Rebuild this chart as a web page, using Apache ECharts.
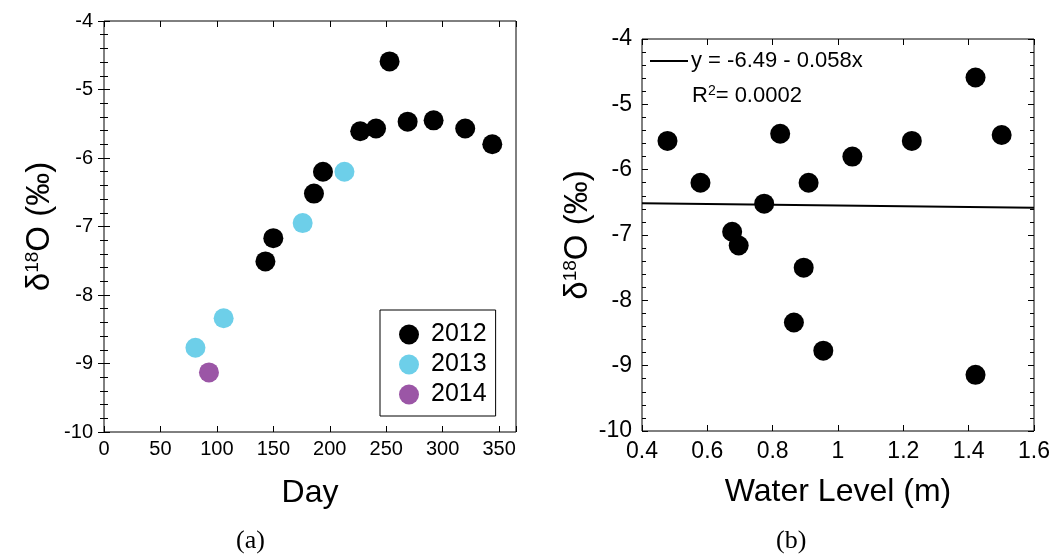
<!DOCTYPE html>
<html>
<head>
<meta charset="utf-8">
<script src="https://cdn.jsdelivr.net/npm/echarts@6/dist/echarts.min.js"></script>
<style>
html, body { margin: 0; padding: 0; background: #fff; }
#main { width: 1057px; height: 554px; }
</style>
</head>
<body>
<div id="main"></div>
<script>
// panel (a): day of year vs d18O
const day2012 = [143, 150, 186, 194, 227, 241, 253, 269, 292, 320, 344]
const d18O2012 = [-7.51, -7.17, -6.52, -6.2, -5.61, -5.57, -4.59, -5.47, -5.45, -5.57, -5.8]
const day2013 = [81, 106, 176, 213]
const d18O2013 = [-8.77, -8.34, -6.95, -6.2]
const day2014 = [93]
const d18O2014 = [-9.13]

// panel (b): water level vs d18O
const waterLevel = [0.478, 0.579, 0.676, 0.696, 0.774, 0.823, 0.865, 0.895, 0.91, 0.955, 1.044, 1.226, 1.421, 1.501, 1.421]
const d18OWater = [-5.56, -6.2, -6.95, -7.16, -6.52, -5.45, -8.34, -7.5, -6.2, -8.77, -5.8, -5.56, -4.59, -5.47, -9.14]

// regression y = a + b x
const fitA = -6.49
const fitB = -0.058
const fitLabel = 'y = -6.49 - 0.058x'
const r2Text = '0.0002'

const font = 'Liberation Sans, Arial, sans-serif'

const pair = (xs, ys) => xs.map((x, i) => [x, ys[i]])

const yTitle = {
  name: '{d|δ}{s|18}{d|O (‰)}',
  nameLocation: 'middle',
  nameRotate: 90,
  nameTextStyle: {
    rich: {
      d: { fontSize: 33, fontFamily: font, color: '#000' },
      s: { fontSize: 19, fontFamily: font, color: '#000', padding: [0, 0, 14, 0] }
    }
  }
}

function xAx (grid, min, max, interval, size, margin, title) {
  const main = {
    gridIndex: grid, type: 'value', min: min, max: max, interval: interval,
    axisLine: { show: false },
    axisTick: { inside: true, length: 6, lineStyle: { color: '#000' } },
    splitLine: { show: false },
    axisLabel: {
      color: '#000', fontSize: size, fontFamily: font, margin: margin,
      formatter: v => (Math.abs(v / interval - Math.round(v / interval)) < 1e-6 ? String(+v.toFixed(2)) : '')
    },
    name: title, nameLocation: 'middle', nameGap: 45,
    nameTextStyle: { fontSize: 32, fontFamily: font, color: '#000' }
  }
  const mirror = {
    gridIndex: grid, type: 'value', position: 'top', min: min, max: max, interval: interval,
    axisLine: { show: false },
    axisTick: { inside: true, length: 6, lineStyle: { color: '#000' } },
    splitLine: { show: false },
    axisLabel: { show: false }
  }
  return [main, mirror]
}

function yAx (grid, size, margin) {
  const common = {
    gridIndex: grid, type: 'value', min: -10, max: -4, interval: 1,
    axisLine: { show: false },
    axisTick: { inside: true, length: 6, lineStyle: { color: '#000' } },
    minorTick: { show: true, splitNumber: 5, length: 4, lineStyle: { color: '#000' } },
    splitLine: { show: false }
  }
  const main = Object.assign({}, common, yTitle, {
    nameGap: 48,
    axisLabel: { color: '#000', fontSize: size, fontFamily: font, margin: margin }
  })
  const mirror = Object.assign({}, common, { position: 'right', axisLabel: { show: false } })
  return [main, mirror]
}

const xAxes = [
  ...xAx(0, 0, 365, 50, 20, 7, 'Day'),
  ...xAx(1, 0.4, 1.6, 0.2, 23, 9, 'Water Level (m)')
]
const yAxes = [...yAx(0, 20, 11), ...yAx(1, 23, 10)]

const dot = { symbol: 'circle', symbolSize: 20 }

const option = {
  animation: false,
  backgroundColor: '#fff',
  grid: [
    { left: 104, top: 21, width: 412, height: 411, show: true, borderColor: '#000', borderWidth: 1 },
    { left: 642, top: 39, width: 392, height: 392, show: true, borderColor: '#000', borderWidth: 1 }
  ],
  xAxis: xAxes,
  yAxis: yAxes,
  legend: [
    {
      data: ['2012', '2013', '2014'],
      orient: 'vertical', left: 380, top: 310,
      icon: 'circle', itemWidth: 20, itemHeight: 20, itemGap: 5,
      padding: [12, 9, 9, 19],
      borderColor: '#000', borderWidth: 1,
      textStyle: { fontSize: 25, fontFamily: font, color: '#000', padding: [0, 0, 0, 7] }
    },
    {
      data: [fitLabel],
      left: 649, top: 50, padding: 0,
      itemWidth: 38, itemHeight: 2, itemGap: 0,
      textStyle: { fontSize: 22, fontFamily: font, color: '#000', padding: [0, 0, 0, -2] }
    }
  ],
  graphic: [
    {
      type: 'text', left: 692, top: 84,
      style: {
        text: '{t|R}{s|2}{t|= ' + r2Text + '}',
        rich: {
          t: { fontSize: 22, fontFamily: font, fill: '#000' },
          s: { fontSize: 14, fontFamily: font, fill: '#000', padding: [0, 0, 10, 0] }
        }
      }
    },
    { type: 'text', left: 236, top: 528, style: { text: '(a)', fontSize: 26, fontFamily: 'Liberation Serif, serif', fill: '#000' } },
    { type: 'text', left: 776, top: 528, style: { text: '(b)', fontSize: 26, fontFamily: 'Liberation Serif, serif', fill: '#000' } }
  ],
  series: [
    Object.assign({ name: '2012', type: 'scatter', xAxisIndex: 0, yAxisIndex: 0, itemStyle: { color: '#000', opacity: 1 }, data: pair(day2012, d18O2012) }, dot),
    Object.assign({ name: '2013', type: 'scatter', xAxisIndex: 0, yAxisIndex: 0, itemStyle: { color: '#6dcfe9', opacity: 1 }, data: pair(day2013, d18O2013) }, dot),
    Object.assign({ name: '2014', type: 'scatter', xAxisIndex: 0, yAxisIndex: 0, itemStyle: { color: '#9b56a6', opacity: 1 }, data: pair(day2014, d18O2014) }, dot),
    {
      name: fitLabel, type: 'line', xAxisIndex: 2, yAxisIndex: 2,
      symbol: 'none', lineStyle: { color: '#000', width: 2 }, itemStyle: { color: '#000' },
      data: [[0.4, fitA + fitB * 0.4], [1.6, fitA + fitB * 1.6]]
    },
    Object.assign({ name: 'water', type: 'scatter', xAxisIndex: 2, yAxisIndex: 2, itemStyle: { color: '#000', opacity: 1 }, data: pair(waterLevel, d18OWater) }, dot)
  ]
}

const chart = echarts.init(document.getElementById('main'))
chart.setOption(option)
</script>
</body>
</html>
